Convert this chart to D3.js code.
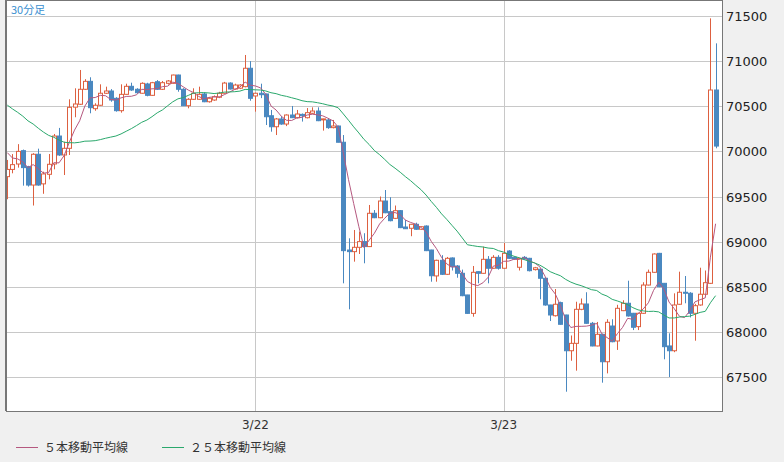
<!DOCTYPE html>
<html>
<head>
<meta charset="utf-8">
<script src="https://cdn.jsdelivr.net/npm/d3@7"></script>
<style>
body { margin: 0; background: #f0f0f0; font-family: "Noto Sans CJK JP", "DejaVu Sans", sans-serif; }
</style>
</head>
<body>
<svg id="chart" width="784" height="462"></svg>
<script>
// 30分足 candles: [open, high, low, close]
var candles = [
[69720,69905,69470,69800],[69800,69970,69757,69853],[69860,70080,69820,70000],[70008,70020,69620,69820],
[69830,69840,69610,69627],[69627,69980,69400,69968],[69968,70030,69620,69627],[69640,69775,69530,69750],
[69746,69971,69690,69857],[69860,70193,69801,70170],[70170,70260,69950,69960],[69960,70107,69738,70034],
[70034,70577,69960,70488],[70490,70699,70378,70525],[70522,70902,70514,70688],[70688,70800,70680,70776],
[70776,70821,70422,70484],[70473,70533,70450,70511],[70511,70743,70505,70644],[70644,70717,70636,70669],
[70669,70690,70550,70569],[70588,70600,70440,70451],[70451,70743,70429,70632],[70632,70750,70630,70721],
[70721,70761,70670,70680],[70688,70700,70640,70650],[70644,70765,70640,70754],[70747,70760,70610,70621],
[70621,70770,70615,70761],[70772,70790,70680,70688],[70688,70780,70680,70761],[70754,70790,70740,70780],
[70754,70850,70750,70846],[70846,70850,70661,70688],[70688,70700,70506,70506],[70506,70590,70477,70577],
[70577,70699,70570,70644],[70577,70717,70570,70632],[70636,70650,70545,70550],[70550,70600,70540,70588],
[70569,70620,70560,70606],[70600,70660,70590,70644],[70644,70770,70640,70757],[70757,70765,70685,70691],
[70691,70750,70685,70735],[70700,70745,70690,70735],[70717,71068,70710,70921],[70921,71000,70561,70588],
[70614,70650,70440,70644],[70644,70750,70590,70628],[70636,70640,70292,70384],[70395,70459,70218,70273],
[70273,70370,70181,70359],[70359,70390,70295,70303],[70303,70410,70280,70403],[70403,70503,70370,70373],
[70373,70459,70365,70414],[70410,70420,70330,70395],[70373,70480,70365,70429],[70422,70488,70415,70447],
[70447,70488,70335,70340],[70355,70362,70230,70360],[70348,70370,70250,70263],[70263,70348,70255,70281],
[70281,70285,70101,70101],[70101,70181,68538,68900],[68907,69037,68250,68889],[68889,69129,68778,68937],
[68937,69111,68863,69000],[69000,69093,68760,68945],[68945,69406,68940,69314],[69314,69350,69260,69265],
[69265,69500,69260,69450],[69450,69572,69315,69320],[69332,69492,69225,69232],[69258,69400,69250,69343],
[69343,69350,69150,69155],[69162,69240,69140,69143],[69148,69195,69060,69192],[69192,69210,69130,69137],
[69137,69170,69130,69165],[69173,69180,68895,68900],[68907,68910,68556,68622],[68620,68800,68556,68793],
[68793,68850,68630,68638],[68638,68830,68630,68815],[68819,68825,68680,68722],[68730,68740,68600,68649],
[68649,68690,68395,68401],[68409,68410,68200,68205],[68205,68730,68168,68660],[68667,68670,68538,68649],
[68649,68944,68645,68804],[68804,68840,68538,68705],[68705,68850,68700,68826],[68826,68850,68690,68705],
[68705,68985,68700,68870],[68896,68905,68810,68815],[68826,68830,68800,68808],[68716,68820,68680,68815],
[68826,68840,68800,68808],[68815,68820,68670,68678],[68690,68720,68680,68710],[68694,68700,68361,68594],
[68594,68600,68290,68298],[68298,68300,68120,68187],[68179,68475,68170,68306],[68324,68335,68080,68084],
[68187,68190,67337,67791],[67791,67960,67680,67873],[67873,68334,67570,68250],[68250,68370,68240,68309],
[68309,68439,68090,68095],[68095,68110,67840,67844],[67844,68110,67840,67973],[67973,67980,67437,67669],
[67669,68140,67540,68106],[68065,68140,67885,67891],[67899,68300,67800,68261],[68235,68350,68230,68317],
[68317,68567,68170,68176],[68206,68210,68020,68051],[68058,68210,68020,68206],[68206,68550,68200,68519],
[68519,68690,68515,68660],[68660,68870,68655,68863],[68870,68875,68495,68500],[68538,68540,67696,67836],
[67844,67984,67500,67791],[67791,68427,67775,68298],[68306,68667,68300,68439],[68439,68619,68317,68428],
[68428,68440,68160,68206],[68206,68310,67902,68290],[68298,68711,68290,68417],[68417,68680,68410,68545],
[68538,71474,68530,70680],[70680,71197,70034,70059]
];
// closes of the 24 candles before the visible range (for the moving averages)
var priorCloses = [70900,70950,70880,70920,70850,70800,70820,70760,70700,70720,70650,70600,
  70580,70520,70480,70450,70400,70350,70300,70250,70150,70050,69980,69950];
var yTicks = [67500,68000,68500,69000,69500,70000,70500,71000,71500];
var dayLines = [{i: 48, label: "3/22"}, {i: 96, label: "3/23"}];
var legendItems = [{name: "５本移動平均線", n: 5, color: "#b5587f"}, {name: "２５本移動平均線", n: 25, color: "#2aa86c"}];

var svg = d3.select("#chart");
var L = 7, R = 722, T = 1, B = 411;

var x = d3.scaleLinear().domain([0, 1]).range([7.3, 12.47]);
var y = d3.scaleLinear().domain([67500, 71500]).range([377, 16]);

var allCloses = priorCloses.concat(candles.map(function (d) { return d[3]; }));
function ma(n) {
    var out = [];
    for (var i = 0; i < candles.length; i++) {
        var k = i + priorCloses.length;
        out.push(d3.mean(allCloses.slice(k - n + 1, k + 1)));
    }
    return out;
}

svg.append("rect").attr("x", L).attr("y", T).attr("width", R - L).attr("height", B - T)
    .attr("fill", "#fff");
svg.append("clipPath").attr("id", "clip").append("rect")
    .attr("x", L).attr("y", T).attr("width", R - L).attr("height", B - T);

var plot = svg.append("g").attr("clip-path", "url(#clip)");

plot.selectAll(".hg").data(yTicks).enter().append("line")
    .attr("x1", L).attr("x2", R).attr("y1", function (d) { return Math.round(y(d)) + 0.5; })
    .attr("y2", function (d) { return Math.round(y(d)) + 0.5; })
    .attr("stroke", "#c8c8c8");
plot.selectAll(".vg").data(dayLines).enter().append("line")
    .attr("x1", function (d) { return Math.round(x(d.i)) + 0.5; })
    .attr("x2", function (d) { return Math.round(x(d.i)) + 0.5; })
    .attr("y1", T).attr("y2", B).attr("stroke", "#c8c8c8");

var up = "#dd6040", down = "#4a88c0";
var c = plot.selectAll(".c").data(candles).enter().append("g");
c.append("line")
    .attr("x1", function (d, i) { return Math.round(x(i)) + 0.5; })
    .attr("x2", function (d, i) { return Math.round(x(i)) + 0.5; })
    .attr("y1", function (d) { return y(d[1]); })
    .attr("y2", function (d) { return y(d[2]); })
    .attr("stroke", function (d) { return d[3] >= d[0] ? up : down; });
c.append("rect")
    .attr("x", function (d, i) { return Math.round(x(i)) - 1.5; })
    .attr("width", 4)
    .attr("y", function (d) { return y(Math.max(d[0], d[3])); })
    .attr("height", function (d) { return Math.max(1, Math.abs(y(d[0]) - y(d[3]))); })
    .attr("fill", function (d) { return d[3] >= d[0] ? "#fff" : down; })
    .attr("stroke", function (d) { return d[3] >= d[0] ? up : down; })
    .attr("stroke-width", 1);

legendItems.forEach(function (it) {
    var line = d3.line().x(function (d, i) { return x(i); }).y(function (d) { return y(d); });
    plot.append("path").datum(ma(it.n)).attr("d", line)
        .attr("fill", "none").attr("stroke", it.color).attr("stroke-width", 1);
});

svg.append("rect").attr("x", L - 0.5).attr("y", T - 0.5).attr("width", R - L + 1).attr("height", B - T + 1)
    .attr("fill", "none").attr("stroke", "#777");
svg.append("line").attr("x1", 6).attr("x2", 6).attr("y1", 0).attr("y2", B).attr("stroke", "#777").attr("stroke-width", 2);

svg.selectAll(".yl").data(yTicks).enter().append("text")
    .attr("x", 726).attr("y", function (d) { return y(d) + 5; })
    .attr("font-size", 13).attr("fill", "#222").attr("font-family", "DejaVu Sans, sans-serif")
    .text(function (d) { return d; });
svg.selectAll(".xl").data(dayLines).enter().append("text")
    .attr("x", function (d) { return x(d.i); }).attr("y", 429).attr("text-anchor", "middle")
    .attr("font-size", 12).attr("fill", "#333").attr("font-family", "DejaVu Sans, sans-serif")
    .text(function (d) { return d.label; });

svg.append("text").attr("x", 11).attr("y", 14).attr("font-size", 11).attr("fill", "#3a8fd0").text("30分足");

legendItems.forEach(function (it, k) {
    var lx = 16 + k * 146;
    svg.append("line").attr("x1", lx).attr("x2", lx + 22).attr("y1", 447.5).attr("y2", 447.5)
        .attr("stroke", it.color);
    svg.append("text").attr("x", lx + 28).attr("y", 452).attr("font-size", 12).attr("fill", "#333")
        .text(it.name);
});
</script>
</body>
</html>
